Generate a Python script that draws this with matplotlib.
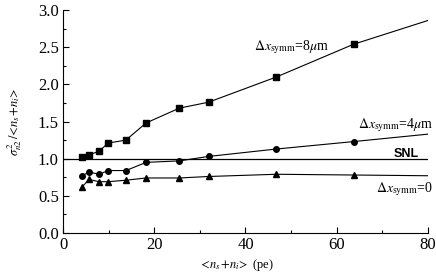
import numpy as np
import matplotlib
matplotlib.use("Agg")
import matplotlib.pyplot as plt

plt.rcParams['font.family'] = ['Liberation Serif', 'DejaVu Serif']
plt.rcParams['mathtext.fontset'] = 'stix'

# mean photon number <n_s+n_i> (pe)
x = [4.2, 5.7, 7.9, 9.9, 13.8, 18.2, 25.5, 31.9, 46.8, 63.7]
sq8 = [1.02, 1.05, 1.10, 1.21, 1.25, 1.48, 1.68, 1.76, 2.10, 2.54]
circ4 = [0.77, 0.82, 0.79, 0.84, 0.84, 0.95, 0.97, 1.03, 1.13, 1.23]
tri0 = [0.62, 0.72, 0.69, 0.69, 0.71, 0.74, 0.74, 0.76, 0.79, 0.78]
# where the trend lines end at x = 80
end80 = [2.86, 1.33, 0.77]

fig = plt.figure(figsize=(4.36, 2.80), dpi=100)
ax = fig.add_axes([0.1445, 0.168, 0.837, 0.796])

for ys, mk, ye in [(sq8, 's', end80[0]), (circ4, 'o', end80[1]), (tri0, '^', end80[2])]:
    ax.plot(x + [80], ys + [ye], color='black', lw=0.8)
    ax.plot(x, ys, linestyle='none', marker=mk, color='black', markersize=4)

ax.axhline(1.0, color='black', lw=0.9)

ax.set_xlim(0, 80)
ax.set_ylim(0, 3.0)
ax.set_xticks([0, 20, 40, 60, 80])
ax.set_xticks([10, 30, 50, 70], minor=True)
ax.set_yticks(np.arange(0, 3.01, 0.5))
ax.set_yticks(np.arange(0.25, 3.0, 0.5), minor=True)
ax.set_yticklabels(['%.1f' % v for v in np.arange(0, 3.01, 0.5)])
ax.tick_params(direction='in', labelsize=12, length=4, width=0.8, pad=3)
ax.tick_params(which='minor', direction='in', length=2.5, width=0.8)
ax.spines['top'].set_visible(False)
ax.spines['right'].set_visible(False)

ax.text(41.8, 2.46, r'$\Delta x_{\rm symm}$=8$\mu$m', fontsize=10)
ax.text(64.6, 1.41, r'$\Delta x_{\rm symm}$=4$\mu$m', fontsize=10)
ax.text(72.5, 1.02, 'SNL', fontsize=9, family='Liberation Sans', weight='bold')
ax.text(68.6, 0.55, r'$\Delta x_{\rm symm}$=0', fontsize=10)

ax.set_xlabel(r'$<\!n_s\!+\!n_i\!>$ (pe)', fontsize=9)
ax.xaxis.set_label_coords(0.474, -0.11)
ax.set_ylabel(r'$\sigma^2_{n2}\,/\!<\!n_s\!+\!n_i\!>$', fontsize=9, labelpad=10)

fig.savefig('out.png', dpi=100)
